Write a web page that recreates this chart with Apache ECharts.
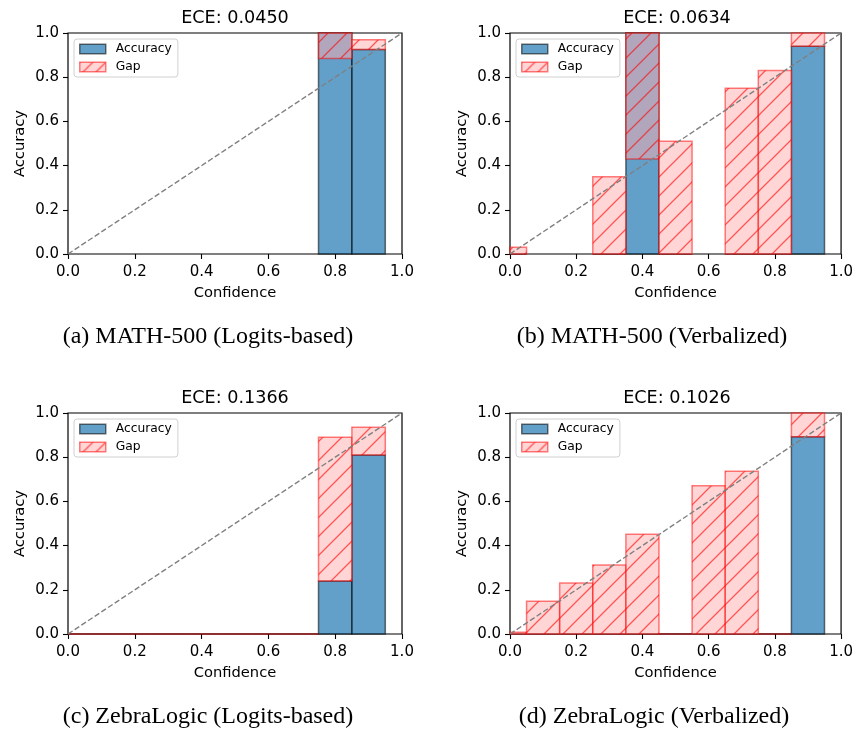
<!DOCTYPE html>
<html>
<head>
<meta charset="utf-8">
<script src="https://cdn.jsdelivr.net/npm/echarts@6/dist/echarts.min.js"></script>
<style>
  html, body { margin: 0; padding: 0; background: #fff; }
  #chart { width: 856px; height: 732px; }
</style>
</head>
<body>
<div id="chart"></div>
<script>
// bins are plotted at their left edge, width 0.1
const binCenters = [0.0, 0.1, 0.2, 0.3, 0.4, 0.5, 0.6, 0.7, 0.8, 0.9];
const binWidth = 0.1;
const tickValues = [0.0, 0.2, 0.4, 0.6, 0.8, 1.0];
const diagonal = [[0, 0], [1, 1]];

const titles = ['ECE: 0.0450', 'ECE: 0.0634', 'ECE: 0.1366', 'ECE: 0.1026'];
const captions = [
  '(a) MATH-500 (Logits-based)',
  '(b) MATH-500 (Verbalized)',
  '(c) ZebraLogic (Logits-based)',
  '(d) ZebraLogic (Verbalized)'
];

// null = empty bin (nothing drawn)
const mathLogitsAcc  = [null, null, null, null, null, null, null, null, 1.0, 0.925];
const mathLogitsConf = [null, null, null, null, null, null, null, null, 0.885, 0.97];
const mathVerbAcc    = [0, null, null, 0, 1.0, 0, null, 0, 0, 0.94];
const mathVerbConf   = [0.03, null, null, 0.35, 0.43, 0.51, null, 0.75, 0.83, 1.0];
const zebraLogitsAcc  = [0, 0, 0, 0, 0, 0, 0, 0, 0.24, 0.81];
const zebraLogitsConf = [0, 0, 0, 0, 0, 0, 0, 0, 0.89, 0.935];
const zebraVerbAcc    = [0, 0, 0, 0, 0, 0, 0, 0, 0, 0.893];
const zebraVerbConf   = [0.008, 0.148, 0.231, 0.312, 0.451, 0, 0.671, 0.736, 0, 1.0];

const accuracies = [mathLogitsAcc, mathVerbAcc, zebraLogitsAcc, zebraVerbAcc];
const confidences = [mathLogitsConf, mathVerbConf, zebraLogitsConf, zebraVerbConf];

// layout of the four panels
const grids = [
  { left: 68, top: 33, width: 334, height: 221 },
  { left: 510, top: 33, width: 334, height: 221 },
  { left: 68, top: 413, width: 334, height: 221 },
  { left: 510, top: 413, width: 334, height: 221 }
];
const captionPos = [[208, 325], [652, 325], [208, 705], [654, 705]];

const accFill = 'rgba(31,119,180,0.7)';
const accEdge = 'rgba(0,0,0,0.55)';
const gapFill = 'rgba(255,172,172,0.5)';
const gapEdge = 'rgba(255,0,0,0.5)';
const hatchColor = 'rgba(255,0,0,0.6)';

function makeHatch(size, bg) {
  const c = document.createElement('canvas');
  c.width = size; c.height = size;
  const ctx = c.getContext('2d');
  if (bg) { ctx.fillStyle = bg; ctx.fillRect(0, 0, size, size); }
  ctx.strokeStyle = hatchColor;
  ctx.lineWidth = 1.3;
  ctx.beginPath();
  ctx.moveTo(-1, size + 1); ctx.lineTo(size + 1, -1);
  ctx.moveTo(-2, 2); ctx.lineTo(2, -2);
  ctx.moveTo(size - 2, size + 2); ctx.lineTo(size + 2, size - 2);
  ctx.stroke();
  return c;
}
const hatch = makeHatch(19);
const legendHatch = makeHatch(13, '#ffd5d5');

function binRect(params, api) {
  const x = api.value(0), a = api.value(1), b = api.value(2);
  const tl = api.coord([x - binWidth / 2, Math.max(a, b)]);
  const br = api.coord([x + binWidth / 2, Math.min(a, b)]);
  const cs = params.coordSys;
  return echarts.graphic.clipRectByRect(
    { x: tl[0], y: tl[1], width: br[0] - tl[0], height: br[1] - tl[1] },
    { x: cs.x, y: cs.y, width: cs.width, height: cs.height }
  );
}

function renderAcc(params, api) {
  const r = binRect(params, api);
  if (!r) return;
  return { type: 'rect', shape: r, style: { fill: accFill, stroke: accEdge, lineWidth: 1.5 } };
}

function renderGap(params, api) {
  const r = binRect(params, api);
  if (!r) return;
  return {
    type: 'group',
    children: [
      { type: 'rect', shape: r, style: { fill: gapFill, stroke: null } },
      { type: 'rect', shape: r, style: { fill: { image: hatch, repeat: 'repeat' }, stroke: gapEdge, lineWidth: 1.5 } }
    ]
  };
}

const font = 'DejaVu Sans';
const tickFormat = v => tickValues.find(t => Math.abs(t - v) < 1e-9).toFixed(1);
const xAxis = [], yAxis = [], series = [], title = [], legend = [];

grids.forEach((g, k) => {
  xAxis.push({
    type: 'value', gridIndex: k, min: 0, max: 1, interval: 0.2,
    name: 'Confidence', nameLocation: 'middle', nameGap: 32,
    nameTextStyle: { fontFamily: font, fontSize: 14.7, color: '#000' },
    axisLine: { show: false },
    axisTick: { show: true, length: 5, lineStyle: { color: '#000', width: 1.1 } },
    axisLabel: { margin: 11, fontFamily: font, fontSize: 15, color: '#000', formatter: tickFormat },
    splitLine: { show: false }
  });
  yAxis.push({
    type: 'value', gridIndex: k, min: 0, max: 1, interval: 0.2,
    name: 'Accuracy', nameLocation: 'middle', nameGap: 40,
    nameTextStyle: { fontFamily: font, fontSize: 14.7, color: '#000' },
    axisLine: { show: false },
    axisTick: { show: true, length: 5, lineStyle: { color: '#000', width: 1.1 } },
    axisLabel: { margin: 9, fontFamily: font, fontSize: 15, color: '#000', formatter: tickFormat },
    splitLine: { show: false }
  });

  const acc = accuracies[k], conf = confidences[k];
  const accData = [], gapData = [];
  binCenters.forEach((c, i) => {
    if (acc[i] == null) return;
    accData.push([c, 0, acc[i]]);
    gapData.push([c, acc[i], conf[i]]);
  });

  series.push({
    name: 'Accuracy', type: 'custom', xAxisIndex: k, yAxisIndex: k, z: 2,
    renderItem: renderAcc, encode: { x: 0, y: [1, 2] }, data: accData,
    itemStyle: { color: accFill }
  });
  series.push({
    name: 'Gap', type: 'custom', xAxisIndex: k, yAxisIndex: k, z: 3,
    renderItem: renderGap, encode: { x: 0, y: [1, 2] }, data: gapData,
    itemStyle: { color: '#ffd5d5' }
  });
  series.push({
    type: 'line', xAxisIndex: k, yAxisIndex: k, z: 4, data: diagonal,
    symbol: 'none', silent: true,
    lineStyle: { color: '#808080', width: 1.4, type: [5.5, 2.5] }
  });

  title.push({
    text: titles[k], left: g.left + g.width / 2, top: g.top - 24, textAlign: 'center', padding: 0,
    textStyle: { fontFamily: font, fontSize: 17.6, fontWeight: 'normal', color: '#000' }
  });
  title.push({
    text: captions[k], left: captionPos[k][0], top: captionPos[k][1], textAlign: 'center', padding: 0,
    textStyle: { fontFamily: 'Liberation Serif', fontSize: 24, fontWeight: 'normal', color: '#000' }
  });

  legend.push({
    orient: 'vertical', left: g.left + 6, top: g.top + 6,
    padding: [4, 6, 4, 5], itemGap: 6, itemWidth: 26, itemHeight: 9.5,
    borderColor: '#d0d0d0', borderWidth: 1, borderRadius: 3,
    backgroundColor: 'rgba(255,255,255,0.8)',
    selectedMode: false,
    textStyle: { fontFamily: font, fontSize: 12.3, color: '#000', padding: [0, 0, 0, 5] },
    data: [
      { name: 'Accuracy', icon: 'rect', itemStyle: { color: accFill, borderColor: accEdge, borderWidth: 1.5 } },
      { name: 'Gap', icon: 'rect', itemStyle: { color: { image: legendHatch, repeat: 'repeat' }, borderColor: gapEdge, borderWidth: 1.5 } }
    ]
  });
});

const chart = echarts.init(document.getElementById('chart'), null, { renderer: 'canvas' });
chart.setOption({
  animation: false,
  title: title,
  legend: legend,
  grid: grids.map(g => Object.assign({ show: true, borderColor: '#000', borderWidth: 1.2, containLabel: false }, g)),
  xAxis: xAxis,
  yAxis: yAxis,
  series: series
});
</script>
</body>
</html>
